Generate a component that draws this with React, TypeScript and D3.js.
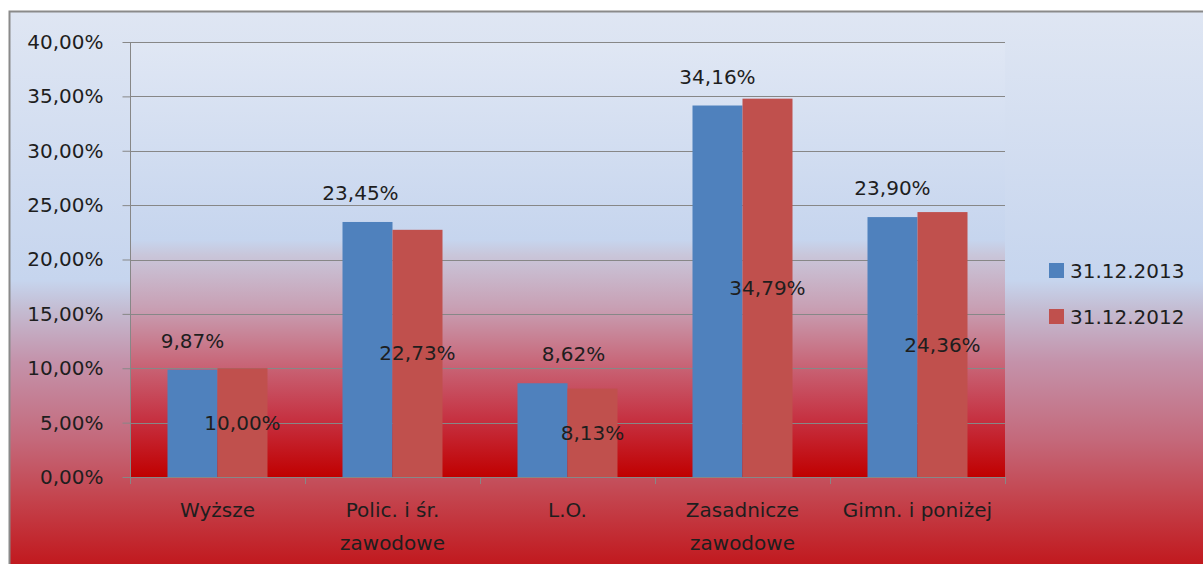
import { useEffect, useRef } from 'react'
import * as d3 from 'd3'

const CATEGORIES = ['Wyższe', 'Polic. i śr.\nzawodowe', 'L.O.', 'Zasadnicze\nzawodowe', 'Gimn. i poniżej']
const SERIES = ['31.12.2013', '31.12.2012']
const VALUES_2013 = [9.87, 23.45, 8.62, 34.16, 23.9]
const VALUES_2012 = [10.0, 22.73, 8.13, 34.79, 24.36]
const Y_TICKS = [0, 5, 10, 15, 20, 25, 30, 35, 40]
const COLORS = ['#4F81BD', '#C0504D']

const FONT = '"DejaVu Sans", sans-serif'
const fmt = (v: number) => v.toFixed(2).replace('.', ',') + '%'

// blue labels were moved by hand in the original
const LABEL_NUDGE: Record<string, number> = { 'Polic. i śr.\nzawodowe': -7, 'L.O.': 31 }

export default function App() {
  const svgRef = useRef<SVGSVGElement>(null)

  useEffect(() => {
    if (!svgRef.current) return
    const W = 1203, H = 564
    const plot = { left: 130, right: 1005, top: 42, bottom: 477 }

    const svg = d3.select(svgRef.current)
    svg.selectAll('*').remove()
    svg.attr('width', W).attr('height', H)

    const defs = svg.append('defs')
    const grad = (id: string, stops: [number, string][]) => {
      const lg = defs.append('linearGradient').attr('id', id)
        .attr('x1', 0).attr('y1', 0).attr('x2', 0).attr('y2', 1)
      stops.forEach(([o, c]) => lg.append('stop').attr('offset', o).attr('stop-color', c))
    }
    grad('chartBg', [
      [0, '#dfe6f3'], [0.46, '#c6d5ee'], [0.51, '#c4bcd2'], [0.6, '#c492aa'],
      [0.73, '#c46a7c'], [0.83, '#c4454f'], [0.98, '#c00c10'], [1, '#c00000'],
    ])
    grad('plotBg', [
      [0, '#e0e7f4'], [0.455, '#c6d5ee'], [0.49, '#c9c6da'], [0.61, '#c8a0b4'],
      [0.73, '#c86a7c'], [0.87, '#c63040'], [1, '#c00000'],
    ])

    // chart area
    svg.append('rect')
      .attr('x', 9.5).attr('y', 11.5).attr('width', W + 20).attr('height', H + 20)
      .attr('fill', 'url(#chartBg)').attr('stroke', '#8a8a8a').attr('stroke-width', 2)

    svg.append('rect')
      .attr('x', plot.left).attr('y', plot.top)
      .attr('width', plot.right - plot.left).attr('height', plot.bottom - plot.top)
      .attr('fill', 'url(#plotBg)')

    const x = d3.scaleBand().domain(CATEGORIES).range([plot.left, plot.right])
    const xs = d3.scaleBand().domain(SERIES).range([0, x.bandwidth()]).paddingOuter(0.75)
    const y = d3.scaleLinear().domain([0, 40]).range([plot.bottom, plot.top])

    // grid
    svg.append('g').selectAll('line')
      .data(Y_TICKS.filter(t => t > 0)).enter().append('line')
      .attr('x1', plot.left).attr('x2', plot.right)
      .attr('y1', d => Math.round(y(d)) + 0.5).attr('y2', d => Math.round(y(d)) + 0.5)
      .attr('stroke', '#878787')

    // y axis
    svg.append('g').attr('transform', `translate(${plot.left + 0.5},0)`)
      .call(d3.axisLeft(y).tickValues(Y_TICKS).tickSize(8).tickPadding(19).tickFormat(d => fmt(+d)))
      .call(ax => ax.select('.domain').attr('stroke', '#878787').attr('d', `M0,${plot.top}V${plot.bottom}`))
      .call(ax => ax.selectAll('.tick line').attr('stroke', '#878787'))
      .call(ax => ax.selectAll('text').attr('fill', '#1e1e1e').attr('font-size', 20).attr('font-family', FONT))

    const series = [VALUES_2013, VALUES_2012]

    // bars
    series.forEach((vals, si) => {
      svg.append('g').selectAll('rect')
        .data(CATEGORIES).enter().append('rect')
        .attr('x', (c) => (x(c) ?? 0) + (xs(SERIES[si]) ?? 0))
        .attr('y', (_, i) => y(vals[i]))
        .attr('width', xs.bandwidth())
        .attr('height', (_, i) => plot.bottom - y(vals[i]))
        .attr('fill', COLORS[si])
    })

    // x axis
    svg.append('g').attr('transform', `translate(0,${plot.bottom + 0.5})`)
      .call(d3.axisBottom(x).tickSize(0).tickFormat(() => ''))
      .call(ax => ax.select('.domain').attr('stroke', '#878787').attr('d', `M${plot.left},0H${plot.right}`))
    svg.append('g').selectAll('line')
      .data(d3.range(CATEGORIES.length + 1)).enter().append('line')
      .attr('x1', i => plot.left + 0.5 + i * x.step()).attr('x2', i => plot.left + 0.5 + i * x.step())
      .attr('y1', plot.bottom).attr('y2', plot.bottom + 7)
      .attr('stroke', '#878787')

    // category labels
    CATEGORIES.forEach(c => {
      const t = svg.append('text')
        .attr('x', (x(c) ?? 0) + x.bandwidth() / 2)
        .attr('y', 517)
        .attr('text-anchor', 'middle')
        .attr('font-family', FONT).attr('font-size', 20).attr('fill', '#1e1e1e')
      c.split('\n').forEach((line, li) => {
        t.append('tspan').attr('x', (x(c) ?? 0) + x.bandwidth() / 2).attr('dy', li === 0 ? 0 : 33).text(line)
      })
    })

    // data labels: 2013 above the bar, 2012 in the middle of the bar
    CATEGORIES.forEach((c, i) => {
      const bx = x(c) ?? 0
      svg.append('text')
        .attr('x', bx + (xs(SERIES[0]) ?? 0) + xs.bandwidth() / 2 + (LABEL_NUDGE[c] ?? 0))
        .attr('y', y(VALUES_2013[i]) - 29)
        .attr('dy', '0.35em').attr('text-anchor', 'middle')
        .attr('font-family', FONT).attr('font-size', 20).attr('fill', '#1e1e1e')
        .text(fmt(VALUES_2013[i]))
      svg.append('text')
        .attr('x', bx + (xs(SERIES[1]) ?? 0) + xs.bandwidth() / 2)
        .attr('y', (y(VALUES_2012[i]) + plot.bottom) / 2)
        .attr('dy', '0.35em').attr('text-anchor', 'middle')
        .attr('font-family', FONT).attr('font-size', 20).attr('fill', '#1e1e1e')
        .text(fmt(VALUES_2012[i]))
    })

    // legend
    const lg = svg.append('g').attr('transform', 'translate(1049,263)')
    SERIES.forEach((s, i) => {
      lg.append('rect').attr('x', 0).attr('y', i * 46).attr('width', 15).attr('height', 15).attr('fill', COLORS[i])
      lg.append('text').attr('x', 21).attr('y', i * 46 + 7.5).attr('dy', '0.35em')
        .attr('font-family', FONT).attr('font-size', 20).attr('fill', '#1e1e1e')
        .text(s)
    })
  }, [])

  return <svg ref={svgRef} style={{ position: 'fixed', left: 0, top: 0, display: 'block' }} />
}
